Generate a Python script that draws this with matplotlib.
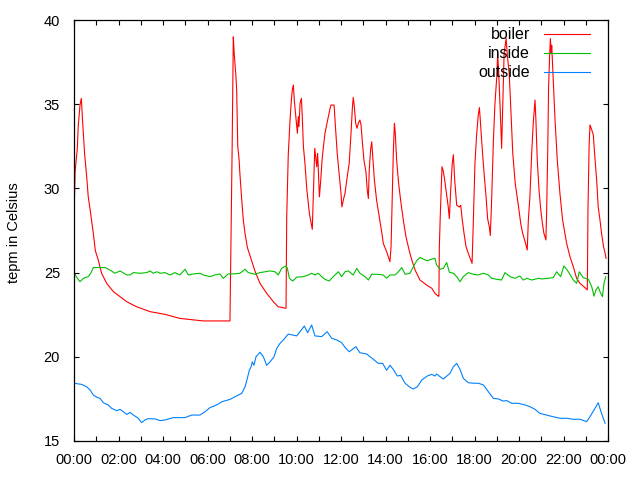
import numpy as np
import matplotlib
matplotlib.use("Agg")
import matplotlib.pyplot as plt
from matplotlib.ticker import MultipleLocator

# Time of day in hours, temperatures in Celsius
boiler_t = [0.0, 0.05, 0.15, 0.19, 0.27, 0.33, 0.39, 0.48, 0.57, 0.64, 0.75, 0.87, 0.96, 1.09, 1.24,
            1.47, 1.77, 2.07, 2.37, 2.82, 3.42, 4.09, 4.76, 5.81, 7.01, 7.07, 7.11, 7.16, 7.20, 7.27,
            7.31, 7.36, 7.42, 7.46, 7.54, 7.61, 7.69, 7.79, 7.91, 8.13, 8.36, 8.66, 8.96, 9.18, 9.53,
            9.56, 9.63, 9.71, 9.77, 9.81, 9.86, 9.90, 10.04, 10.08, 10.11, 10.16, 10.22, 10.26, 10.31,
            10.38, 10.46, 10.58, 10.65, 10.71, 10.76, 10.82, 10.91, 10.95, 11.03, 11.09, 11.15, 11.21,
            11.28, 11.40, 11.51, 11.55, 11.69, 11.74, 11.83, 11.93, 12.00, 12.04, 12.12, 12.18, 12.28,
            12.37, 12.45, 12.51, 12.55, 12.60, 12.66, 12.72, 12.78, 12.85, 12.90, 12.96, 13.03, 13.12,
            13.18, 13.23, 13.27, 13.33, 13.38, 13.42, 13.50, 13.60, 13.72, 13.83, 13.90, 14.05, 14.20,
            14.25, 14.29, 14.35, 14.40, 14.44, 14.50, 14.59, 14.68, 14.80, 14.92, 15.06, 15.18, 15.33,
            15.55, 15.85, 16.08, 16.22, 16.37, 16.40, 16.42, 16.46, 16.54, 16.60, 16.66, 16.78, 16.82,
            16.87, 16.93, 17.00, 17.05, 17.11, 17.20, 17.32, 17.38, 17.45, 17.53, 17.62, 17.72, 17.89,
            17.95, 18.02, 18.10, 18.17, 18.22, 18.26, 18.34, 18.43, 18.52, 18.59, 18.67, 18.71, 18.76,
            18.85, 18.92, 19.00, 19.04, 19.09, 19.15, 19.22, 19.28, 19.33, 19.42, 19.47, 19.56, 19.61,
            19.72, 19.83, 19.97, 20.08, 20.17, 20.26, 20.35, 20.37, 20.42, 20.49, 20.57, 20.64, 20.69,
            20.72, 20.76, 20.82, 20.90, 20.98, 21.05, 21.12, 21.21, 21.24, 21.29, 21.33, 21.38, 21.41,
            21.45, 21.47, 21.54, 21.62, 21.72, 21.84, 21.96, 22.14, 22.29, 22.44, 22.59, 22.74, 22.92,
            23.07, 23.10, 23.15, 23.19, 23.27, 23.34, 23.42, 23.49, 23.56, 23.64, 23.71, 23.80, 23.87,
            23.91]
boiler = [28.3, 31.0, 32.4, 33.7, 34.95, 35.35, 33.9, 32.0, 30.7, 29.5, 28.5, 27.3, 26.3, 25.75, 24.96,
          24.36, 23.87, 23.57, 23.27, 22.97, 22.68, 22.52, 22.28, 22.13, 22.13, 28.4, 32.7, 39.0, 38.0, 36.8,
          35.9, 32.5, 31.7, 30.8, 29.3, 28.1, 27.3, 26.5, 26.0, 25.1, 24.36, 23.77, 23.27, 22.97, 22.88,
          28.3, 32.0, 34.06, 35.25, 35.84, 36.14, 35.25, 33.27, 34.26, 33.67, 35.05, 35.35, 34.26, 32.48,
          31.49, 30.0, 28.5, 28.0, 27.57, 29.7, 32.38, 31.29, 32.08, 29.5, 30.5, 31.69, 32.48,
          33.27, 34.06, 34.75, 34.95, 34.95, 33.87, 32.08, 30.7, 29.7, 28.9, 29.4, 29.7, 30.7,
          31.5, 33.27, 34.75, 35.4, 34.85, 33.87, 33.57, 33.87, 34.06, 33.77, 32.77, 31.69, 31.0,
          29.9, 29.4, 31.1, 32.28, 32.77, 32.0, 30.5, 29.3, 28.3, 27.4, 26.74, 26.24, 25.65,
          26.54, 28.7, 32.08, 33.87, 33.27, 31.69, 30.3, 29.3, 28.12, 27.13, 26.34, 25.75, 25.15,
          24.56, 24.26, 24.07, 23.77, 23.6, 23.6, 26.54, 28.3, 31.29, 31.0, 30.5, 29.3, 28.9,
          28.2, 29.9, 31.49, 32.0, 30.5, 29.0, 28.9, 29.0, 28.12, 27.33, 26.54, 26.15, 25.55,
          28.12, 31.49, 33.27, 34.36, 34.8, 34.06, 32.48, 30.9, 29.5, 28.2, 27.7, 27.2, 28.9,
          32.87, 35.05, 36.6, 38.0, 36.8, 34.85, 32.38, 35.45, 38.0, 38.9, 38.0, 36.8, 35.4,
          32.08, 30.3, 29.0, 27.9, 27.3, 26.9, 26.44, 26.34, 28.12, 29.5, 32.08, 33.87, 34.75,
          35.25, 34.06, 31.69, 29.9, 28.7, 27.93, 27.33, 26.94, 28.5, 32.08, 36.04, 38.0, 38.9,
          38.0, 38.5, 36.44, 34.06, 31.69, 29.7, 28.12, 26.74, 25.95, 25.35, 24.66, 24.36, 24.16,
          23.97, 28.7, 32.5, 33.77, 33.47, 33.17, 31.69, 30.5, 28.9, 28.12, 27.33, 26.54, 26.15,
          25.85]

inside_t = [0.0, 0.15, 0.27, 0.42, 0.64, 0.75, 0.87, 1.09, 1.39, 1.62, 1.84, 2.07, 2.37, 2.52, 2.67,
            2.97, 3.27, 3.42, 3.56, 3.72, 3.87, 4.09, 4.31, 4.54, 4.76, 4.99, 5.14, 5.36, 5.66, 5.81,
            6.11, 6.34, 6.56, 6.71, 6.93, 7.16, 7.46, 7.69, 7.83, 8.13, 8.36, 8.58, 8.81, 9.03, 9.18,
            9.33, 9.53, 9.59, 9.68, 9.83, 10.01, 10.31, 10.53, 10.68, 10.83, 10.98, 11.13, 11.28, 11.47,
            11.65, 11.88, 12.03, 12.18, 12.33, 12.55, 12.71, 12.85, 13.08, 13.23, 13.38, 13.60, 13.90,
            14.05, 14.20, 14.43, 14.58, 14.73, 14.88, 15.10, 15.25, 15.40, 15.55, 15.70, 15.88, 16.08,
            16.22, 16.30, 16.45, 16.60, 16.75, 16.87, 17.05, 17.20, 17.35, 17.50, 17.72, 17.95, 18.17,
            18.40, 18.62, 18.77, 19.00, 19.22, 19.37, 19.60, 19.82, 20.04, 20.19, 20.36, 20.57, 20.88,
            21.03, 21.54, 21.69, 21.87, 22.02, 22.22, 22.44, 22.59, 22.71, 22.89, 23.12, 23.27, 23.37,
            23.46, 23.56, 23.64, 23.75, 23.82, 23.90]
inside = [25.0, 24.66, 24.46, 24.66, 24.76, 24.96, 25.3, 25.3, 25.3, 25.15, 24.96, 25.1, 24.86, 24.86, 25.0,
          24.96, 25.0, 25.1, 24.96, 25.05, 24.96, 25.0, 24.86, 25.0, 24.86, 25.2, 24.86, 24.92, 24.96, 24.86,
          24.76, 24.86, 24.92, 24.66, 24.92, 24.92, 24.96, 25.2, 25.0, 24.9, 25.0, 25.05, 25.1, 25.05, 24.86,
          25.25, 25.4, 25.25, 24.66, 24.5, 24.73, 24.76, 24.86, 24.96, 24.86, 24.96, 24.76, 24.6, 24.5,
          24.76, 25.05, 24.76, 25.05, 25.1, 24.86, 25.25, 24.96, 24.76, 24.56, 24.9, 24.9, 24.86,
          24.66, 24.86, 24.86, 25.05, 25.3, 24.9, 24.96, 25.35, 25.7, 25.9, 25.8, 25.7, 25.8,
          25.85, 25.45, 25.2, 25.25, 25.6, 25.02, 24.96, 24.76, 24.46, 24.76, 25.0, 24.9, 24.86,
          24.96, 24.86, 24.66, 24.6, 24.56, 25.0, 24.76, 24.66, 24.8, 24.56, 24.66, 24.56, 24.66,
          24.62, 24.7, 25.05, 24.76, 25.4, 25.05, 24.56, 24.36, 25.05, 24.7, 24.6, 24.16, 23.6,
          23.97, 24.16, 23.87, 23.57, 24.36, 24.76]

outside_t = [0.0, 0.35, 0.57, 0.72, 0.87, 1.02, 1.17, 1.32, 1.54, 1.69, 1.92, 2.07, 2.22, 2.37, 2.52,
             2.67, 2.89, 3.04, 3.19, 3.34, 3.64, 3.87, 4.09, 4.47, 4.99, 5.29, 5.66, 5.89, 6.11, 6.41,
             6.64, 7.01, 7.24, 7.54, 7.69, 7.79, 7.88, 7.96, 8.01, 8.09, 8.18, 8.36, 8.51, 8.66, 8.81,
             8.99, 9.11, 9.26, 9.41, 9.63, 10.01, 10.16, 10.35, 10.50, 10.68, 10.83, 11.13, 11.38, 11.58,
             11.81, 12.03, 12.18, 12.37, 12.67, 12.85, 13.15, 13.45, 13.68, 13.87, 14.05, 14.20, 14.35,
             14.53, 14.68, 14.88, 15.10, 15.25, 15.43, 15.63, 15.88, 16.08, 16.22, 16.30, 16.45, 16.60,
             16.90, 17.05, 17.20, 17.35, 17.50, 17.72, 17.95, 18.17, 18.40, 18.62, 18.85, 19.07, 19.29,
             19.45, 19.67, 19.97, 20.27, 20.49, 20.72, 20.94, 21.24, 21.54, 21.84, 22.14, 22.44, 22.74,
             23.04, 23.19, 23.37, 23.56, 23.71, 23.87]
outside = [18.43, 18.36, 18.22, 18.03, 17.73, 17.6, 17.53, 17.27, 17.14, 16.94, 16.8, 16.88, 16.74, 16.58, 16.7,
           16.54, 16.35, 16.09, 16.25, 16.33, 16.31, 16.21, 16.25, 16.39, 16.39, 16.54, 16.54, 16.74, 16.98, 17.14,
           17.33, 17.47, 17.63, 17.83, 18.22, 18.72, 19.2, 19.41, 19.7, 19.5, 20.0, 20.27, 20.0, 19.5, 19.7,
           20.0, 20.5, 20.8, 21.0, 21.35, 21.24, 21.49, 21.83, 21.43, 21.89, 21.24, 21.2, 21.49, 21.1,
           21.0, 20.84, 20.56, 20.3, 20.6, 20.24, 20.17, 19.85, 19.61, 19.61, 19.2, 19.5, 19.25,
           18.86, 18.9, 18.43, 18.19, 18.09, 18.22, 18.62, 18.86, 18.96, 18.86, 18.98, 18.82, 18.68,
           19.02, 19.41, 19.61, 19.25, 18.72, 18.46, 18.43, 18.43, 18.33, 17.93, 17.53, 17.5, 17.37,
           17.4, 17.24, 17.24, 17.14, 17.04, 16.88, 16.64, 16.54, 16.44, 16.35, 16.35, 16.29, 16.29,
           16.15, 16.44, 16.84, 17.27, 16.64, 16.05]

hour_ticks = list(range(0, 25, 2))
hour_labels = ["%02d:00" % (h % 24) for h in hour_ticks]

plt.rcParams['font.family'] = ['Liberation Sans', 'DejaVu Sans']

fig = plt.figure(figsize=(6.4, 4.8), dpi=100)
ax = fig.add_axes([74 / 640, 39 / 480, 534 / 640, 421 / 480])

ax.plot(boiler_t, boiler, color='#ff0000', lw=0.8, label='boiler')
ax.plot(inside_t, inside, color='#00c000', lw=0.8, label='inside')
ax.plot(outside_t, outside, color='#0080ff', lw=0.8, label='outside')

ax.set_xlim(0, 24)
ax.set_ylim(15, 40)
ax.set_xticks(hour_ticks)
ax.set_xticklabels(hour_labels)
ax.xaxis.set_minor_locator(MultipleLocator(1))
ax.set_yticks([15, 20, 25, 30, 35, 40])
ax.tick_params(which='both', direction='in', top=True, right=True, length=3.5, width=0.8,
               labelsize=10.5, pad=10)
ax.tick_params(axis='x', which='major', pad=9)
for s in ax.spines.values():
    s.set_linewidth(0.9)

ax.set_ylabel("tepm in Celsius", fontsize=10.5)
ax.yaxis.set_label_coords(-0.099, 0.494)

ax.legend(loc='upper right', bbox_to_anchor=(0.966, 0.983), frameon=False, markerfirst=False,
          fontsize=11.5, handlelength=2.9, handletextpad=0.85, labelspacing=0.25,
          borderaxespad=0, borderpad=0)

fig.savefig("out.png", dpi=100)
